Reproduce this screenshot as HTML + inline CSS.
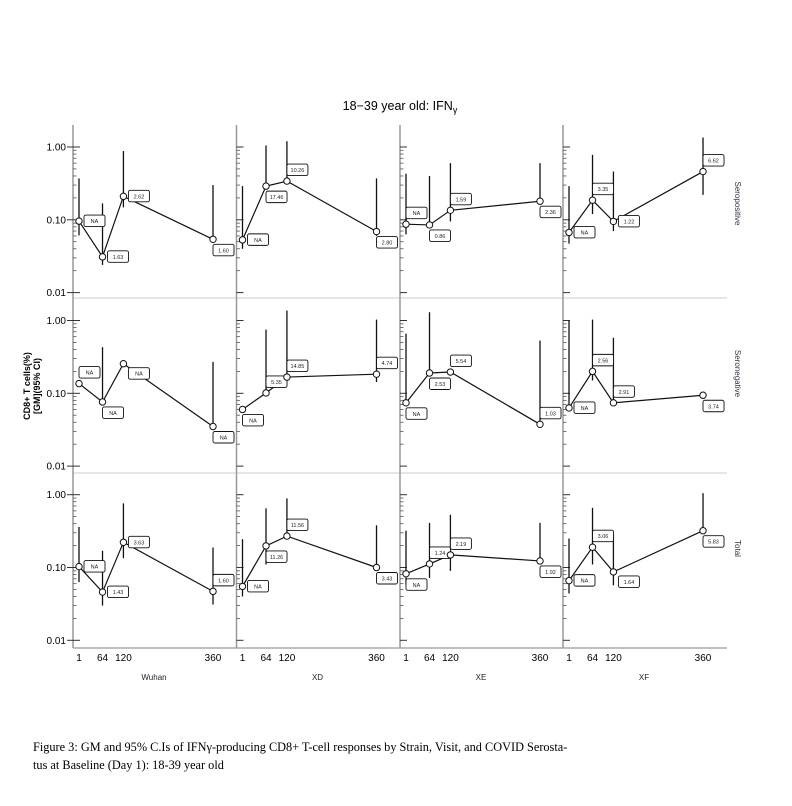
<!DOCTYPE html>
<html><head><meta charset="utf-8">
<style>
body{margin:0;background:#fff;}
svg{display:block;font-family:"Liberation Sans",sans-serif;}
.cap{position:absolute;left:33px;top:738px;font-family:"Liberation Serif",serif;font-size:12.3px;line-height:18px;color:#000;width:740px;}
</style></head><body>
<div style="position:relative;width:792px;height:806px;">
<svg id="chart" width="792" height="806"></svg>
<div class="cap">Figure 3: GM and 95% C.Is of IFNγ-producing CD8+ T-cell responses by Strain, Visit, and COVID Serosta-<br>tus at Baseline (Day 1): 18-39 year old</div>
</div>
<script>
const strains = ["Wuhan","XD","XE","XF"];
const rowsLbl = ["Seropositive","Seronegative","Total"];
const visits = [1,64,120,360];
const yTicks = [1,0.1,0.01];
const yTickLabels = ["1.00","0.10","0.01"];
// Seropositive
const gmPos = [[0.096,0.031,0.21,0.054],[0.053,0.29,0.34,0.069],[0.087,0.085,0.135,0.18],[0.067,0.186,0.095,0.46]];
const loPos = [[0.061,0.024,0.148,0.05],[0.04,0.29,0.34,0.06],[0.063,0.085,0.095,0.18],[0.047,0.12,0.07,0.22]];
const hiPos = [[0.37,0.168,0.88,0.30],[0.29,1.05,1.2,0.37],[0.43,0.40,0.60,0.60],[0.29,0.78,0.46,1.35]];
const lblPos = [["NA","1.63","2.62","1.60"],["NA","17.46","10.26","2.80"],["NA","0.86","1.59","2.36"],["NA","3.35","1.22","6.62"]];
// Seronegative
const gmNeg = [[0.136,0.076,0.255,0.035],[0.060,0.101,0.167,0.183],[0.074,0.19,0.196,0.0375],[0.063,0.2,0.074,0.094]];
const loNeg = [[0.136,0.076,0.255,0.035],[0.060,0.101,0.167,0.143],[0.074,0.19,0.196,0.0375],[0.063,0.15,0.074,0.094]];
const hiNeg = [[0.136,0.43,0.255,0.27],[0.060,0.75,1.37,1.03],[0.66,1.3,0.196,0.53],[1.0,1.03,0.58,0.094]];
const lblNeg = [["NA","NA","NA","NA"],["NA","5.35","14.85","4.74"],["NA","2.53","5.54","1.03"],["NA","2.56","2.91","3.74"]];
// Total
const gmTot = [[0.103,0.046,0.222,0.047],[0.055,0.198,0.27,0.1],[0.082,0.112,0.149,0.123],[0.066,0.19,0.087,0.32]];
const loTot = [[0.063,0.030,0.134,0.031],[0.04,0.11,0.27,0.1],[0.058,0.072,0.09,0.123],[0.044,0.11,0.057,0.32]];
const hiTot = [[0.36,0.17,0.76,0.188],[0.245,0.65,0.89,0.38],[0.32,0.41,0.53,0.41],[0.25,0.66,0.28,1.05]];
const lblTot = [["NA","1.43","3.63","1.60"],["NA","11.26","11.56","3.43"],["NA","1.24","2.19","1.92"],["NA","3.06","1.64","5.83"]];
// label placement codes (layout only)
const placePos = [["R","R","R","B"],["R","B","A","B"],["A","B","A","B"],["R","A","R","A"]];
const placeNeg = [["A","B","BR","B"],["B","A","A","A"],["B","B","A","A"],["R","A","A","B"]];
const placeTot = [["R","R","R","A"],["R","B","A","B"],["B","A","A","B"],["R","A","BR","B"]];

const GM=[gmPos,gmNeg,gmTot], LO=[loPos,loNeg,loTot], HI=[hiPos,hiNeg,hiTot], LB=[lblPos,lblNeg,lblTot], PL=[placePos,placeNeg,placeTot];
const panelLeft=[73,236.5,400,563], panelW=163.5;
const rowTop=[125,298,473], rowBottom=[298,473,648], rowOne=[147,320.5,494.7], dec=72.8;
const svg=document.getElementById('chart'), NS="http://www.w3.org/2000/svg";
function mk(tag,attrs,parent){const e=document.createElementNS(NS,tag);for(const k in attrs)e.setAttribute(k,attrs[k]);(parent||svg).appendChild(e);return e;}
function xs(c,v){return panelLeft[c]+6+(v-1)*0.3733;}
function ys(r,v){return rowOne[r]-Math.log10(v)*dec;}
const offs={R:[5,-6],B:[0,5],A:[0,-17],BR:[5,4]};

// title
const t=mk('text',{x:400,y:110,'text-anchor':'middle','font-size':12.5});


t.innerHTML='18−39 year old: IFN<tspan dy="3" font-size="9">γ</tspan>';
// y title
const yt=mk('text',{transform:'translate(34,386) rotate(-90)','text-anchor':'middle','font-size':9,'font-weight':'bold'});


yt.innerHTML='<tspan x="0" dy="-4">CD8+ T cells(%)</tspan><tspan x="0" dy="10">[GM](95% CI)</tspan>';

// separators
for(let r=0;r<3;r++){
  const l=mk('line',{x1:73,x2:727,y1:rowBottom[r],y2:rowBottom[r],stroke:r==2?'#aaa':'#ccc','stroke-width':r==2?1.5:1});
  
  
  const rl=mk('text',{transform:`translate(735,${(rowTop[r]+rowBottom[r])/2+ (r==0?-8:(r==1?-12:-12))}) rotate(90)`,'text-anchor':'middle','font-size':8,fill:'#334'});
  
  
  rl.textContent=rowsLbl[r];
}
for(let c=0;c<4;c++){
  const ax=mk('line',{x1:panelLeft[c],x2:panelLeft[c],y1:125,y2:648,stroke:'#999','stroke-width':1.5});
  
  
  // x ticks
  visits.forEach(v=>{
    const tl=mk('text',{x:xs(c,v),y:661,'text-anchor':'middle','font-size':10});
    
    
    tl.textContent=v;
  });
  const cl=mk('text',{x:panelLeft[c]+81,y:680,'text-anchor':'middle','font-size':8,fill:'#223'});
  
  
  cl.textContent=strains[c];
  for(let r=0;r<3;r++){
    const L=panelLeft[c];
    yTicks.forEach((tv,i)=>{
      const y=ys(r,tv);
      const tk=mk('line',{x1:c==0?L-6:L,x2:L+7,y1:y,y2:y,stroke:'#333','stroke-width':1});
      
      
      if(c==0){
        const tl=mk('text',{x:L-7,y:y+3.5,'text-anchor':'end','font-size':10});
        
        
        tl.textContent=yTickLabels[i];
      }
      if(i<2){for(let m=2;m<10;m++){
        const ym=ys(r,tv*m/10);
        const mt=mk('line',{x1:L,x2:L+3.5,y1:ym,y2:ym,stroke:'#555','stroke-width':0.8});
        
        
      }}
    });
    const g=GM[r][c], lo=LO[r][c], hi=HI[r][c];
    visits.forEach((v,i)=>{
      const eb=mk('line',{x1:xs(c,v),x2:xs(c,v),y1:ys(r,hi[i]),y2:ys(r,lo[i]),stroke:'#111','stroke-width':1.3});
      
      
    });
    const pl=mk('polyline',{points:visits.map((v,i)=>xs(c,v)+','+ys(r,g[i])).join(' '),fill:'none',stroke:'#111','stroke-width':1.2});
    
    
    visits.forEach((v,i)=>{
      const px=xs(c,v),py=ys(r,g[i]);
      const o=offs[PL[r][c][i]];
      const bx=px+o[0],by=py+o[1];
      const rc=mk('rect',{x:bx,y:by,width:21,height:11.5,rx:1.8,fill:'#fff',stroke:'#111','stroke-width':0.9});
      
      
      const tx=mk('text',{x:bx+10.5,y:by+8,'text-anchor':'middle','font-size':5.5,fill:'#223'});
      
      
      tx.textContent=LB[r][c][i];
      const pt=mk('circle',{cx:px,cy:py,r:3.2,fill:'#fff',stroke:'#111','stroke-width':1});
      
      
    });
  }
}
</script>
</body></html>
